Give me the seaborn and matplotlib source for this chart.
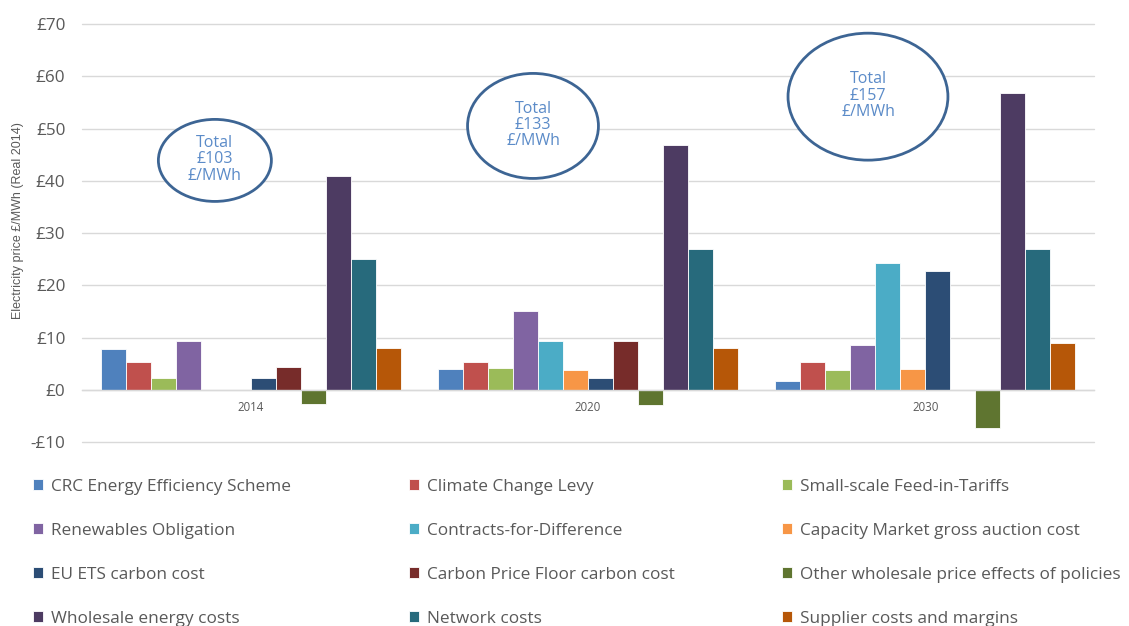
import numpy as np
import pandas as pd
import seaborn as sns
import matplotlib
matplotlib.use("Agg")
import matplotlib.pyplot as plt
from matplotlib.patches import Ellipse
from matplotlib.ticker import FuncFormatter

# ---------------- data ----------------
years = ["2014", "2020", "2030"]
components = [
    "CRC Energy Efficiency Scheme",
    "Climate Change Levy",
    "Small-scale Feed-in-Tariffs",
    "Renewables Obligation",
    "Contracts-for-Difference",
    "Capacity Market gross auction cost",
    "EU ETS carbon cost",
    "Carbon Price Floor carbon cost",
    "Other wholesale price effects of policies",
    "Wholesale energy costs",
    "Network costs",
    "Supplier costs and margins",
]
values_2014 = [7.8, 5.3, 2.3, 9.4, 0.0, 0.0, 2.3, 4.3, -2.7, 40.9, 25.0, 8.0]
values_2020 = [4.0, 5.3, 4.1, 15.0, 9.4, 3.8, 2.3, 9.4, -2.9, 46.9, 27.0, 8.0]
values_2030 = [1.7, 5.3, 3.8, 8.6, 24.3, 3.9, 22.7, 0.0, -7.3, 56.8, 27.0, 9.0]
totals = ["£103", "£133", "£157"]

colors = ["#4F81BD", "#C0504D", "#9BBB59", "#8064A2", "#4BACC6", "#F79646",
          "#2C4D75", "#772C2A", "#5F7530", "#4D3B62", "#276A7C", "#B65708"]

# ---------------- build table ----------------
rows = []
for yr, vals in zip(years, [values_2014, values_2020, values_2030]):
    for comp, v in zip(components, vals):
        rows.append({"year": yr, "component": comp, "value": v})
df = pd.DataFrame(rows)

sns.set_theme(style="white")
plt.rcParams["font.family"] = ["Open Sans", "DejaVu Sans"]

fig = plt.figure(figsize=(11.29, 6.26), dpi=100)
ax = fig.add_axes([0.0726, 0.2939, 0.8964, 0.6677])

sns.barplot(data=df, x="year", y="value", hue="component", order=years,
            hue_order=components, palette=colors, width=0.89, ax=ax,
            edgecolor="white", linewidth=0.6, saturation=1)

ax.set_ylim(-10, 70)
ax.set_xlim(-0.5, 2.5)
ax.set_yticks(np.arange(-10, 71, 10))
ax.yaxis.set_major_formatter(FuncFormatter(lambda v, p: ("-£%d" % abs(v)) if v < 0 else "£%d" % v))
ax.grid(axis="y", color="#D9D9D9", linewidth=1.0)
for gl in ax.get_ygridlines():
    gl.set_clip_on(False)
ax.set_axisbelow(True)
for s in ["top", "right", "left"]:
    ax.spines[s].set_visible(False)
ax.spines["bottom"].set_position(("data", 0))
ax.spines["bottom"].set_color("#D9D9D9")
ax.spines["bottom"].set_linewidth(1.0)
ax.tick_params(axis="y", length=0, labelsize=12.3, labelcolor="#595959", pad=12)
ax.tick_params(axis="x", length=0, labelsize=8.3, labelcolor="#595959", pad=8)
ax.set_xlabel("")
ax.set_ylabel("")

fig.text(18 / 1129, 0.648, "Electricity price £/MWh (Real 2014)", rotation=90,
         ha="center", va="center", fontsize=9, color="#595959",
         family=["Liberation Sans Narrow", "Liberation Sans", "DejaVu Sans"])

# ---------------- total annotations ----------------
ell_dx = [-0.106, -0.163, -0.170]
ell_y = [43.9, 50.5, 56.1]
ell_w = [0.335, 0.388, 0.474]
ell_h = [15.7, 20.1, 24.3]
for i, tot in enumerate(totals):
    ax.add_patch(Ellipse((i + ell_dx[i], ell_y[i]), ell_w[i], ell_h[i],
                         facecolor="white", edgecolor="#3D6594", linewidth=2.0, zorder=5))
    ax.text(i + ell_dx[i], ell_y[i] + 0.2, "Total\n%s\n£/MWh" % tot, ha="center",
            va="center", fontsize=11.5, color="#5B8BC8", linespacing=1.02, zorder=6)

# ---------------- legend ----------------
handles, labels = ax.get_legend_handles_labels()
if ax.get_legend() is not None:
    ax.get_legend().remove()
col_x = [33 / 1129, 409 / 1129, 782 / 1129]
for c in range(3):
    fig.legend(handles[c::3], labels[c::3], loc="upper left",
               bbox_to_anchor=(col_x[c], 1 - 479 / 626), frameon=False,
               fontsize=12.4, labelcolor="#595959", handlelength=0.6,
               handleheight=0.6, handletextpad=0.45, borderpad=0,
               borderaxespad=0, labelspacing=1.62)

fig.savefig("out.png", dpi=100, facecolor="white")
